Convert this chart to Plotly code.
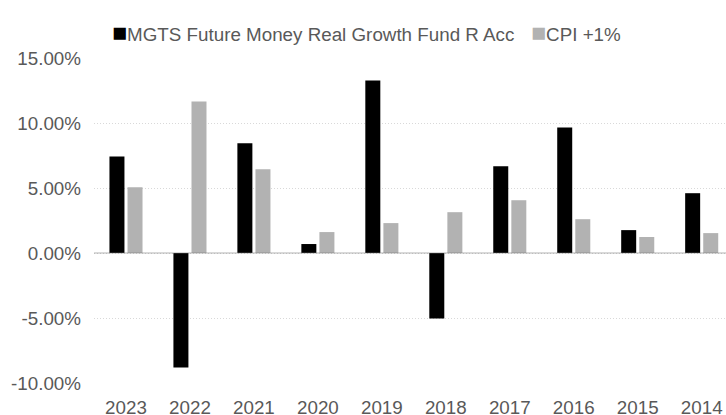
import plotly.graph_objects as go

years = ["2023", "2022", "2021", "2020", "2019", "2018", "2017", "2016", "2015", "2014"]
fund_name = "MGTS Future Money Real Growth Fund R Acc"
fund = [7.43, -8.81, 8.45, 0.69, 13.26, -5.03, 6.67, 9.66, 1.76, 4.60]
cpi_name = "CPI +1%"
cpi = [5.06, 11.65, 6.44, 1.61, 2.30, 3.14, 4.06, 2.60, 1.23, 1.53]
y_ticks = [-10, -5, 0, 5, 10, 15]

fund_color = "#000000"
cpi_color = "#b2b2b2"
text_color = "#595959"
font = "Liberation Sans, Arial, sans-serif"
fs = 18.8

W, H = 726, 415
L, R, T, B = 94, 0, 58, 32
pw, ph = W - L - R, H - T - B

def px_x(px):
    return (px - L) / pw

def px_y(py):
    return (H - B - py) / ph

fig = go.Figure()
fig.add_bar(x=years, y=fund, name=fund_name, marker=dict(color=fund_color, line=dict(width=0)))
fig.add_bar(x=years, y=cpi, name=cpi_name, marker=dict(color=cpi_color, line=dict(width=0)))

fig.update_layout(
    width=W, height=H,
    margin=dict(l=L, r=R, t=T, b=B, autoexpand=False),
    paper_bgcolor="white", plot_bgcolor="white",
    barmode="group", bargap=0.435, bargroupgap=0.17,
    font=dict(family=font, size=fs, color=text_color),
    showlegend=False,
)

# legend rendered as text (colored square glyph + series name)
legend_y = px_y(32)
fig.add_annotation(
    xref="paper", yref="paper", x=px_x(110), y=legend_y, xanchor="left", yanchor="middle",
    text=f'<span style="color:{fund_color};font-size:25px">■</span>{fund_name}',
    showarrow=False, font=dict(family=font, size=fs, color=text_color),
)
fig.add_annotation(
    xref="paper", yref="paper", x=px_x(529), y=legend_y, xanchor="left", yanchor="middle",
    text=f'<span style="color:{cpi_color};font-size:25px">■</span>{cpi_name}',
    showarrow=False, font=dict(family=font, size=fs, color=text_color),
)

# zero line drawn over bars, semi-transparent
fig.add_hline(y=0, line=dict(color="rgba(120,120,120,0.28)", width=2), layer="above")

fig.update_xaxes(range=[-0.5, 9.38], showgrid=False, showline=False, ticks="",
                 automargin=False, ticklabelstandoff=11,
                 tickfont=dict(size=fs, color=text_color))
fig.update_yaxes(range=[-10, 15], tickvals=y_ticks,
                 ticktext=[f"{v:.2f}%" for v in y_ticks],
                 showgrid=True, gridcolor="#d9d9d9", griddash="1px,2px", gridwidth=1,
                 zeroline=False, showline=False, ticks="", automargin=False,
                 ticklabelstandoff=12,
                 tickfont=dict(size=fs, color=text_color))

fig.write_html(
    "out.html",
    config={"displayModeBar": False},
    post_script="document.body.style.margin='0';document.body.style.overflow='hidden';",
)
